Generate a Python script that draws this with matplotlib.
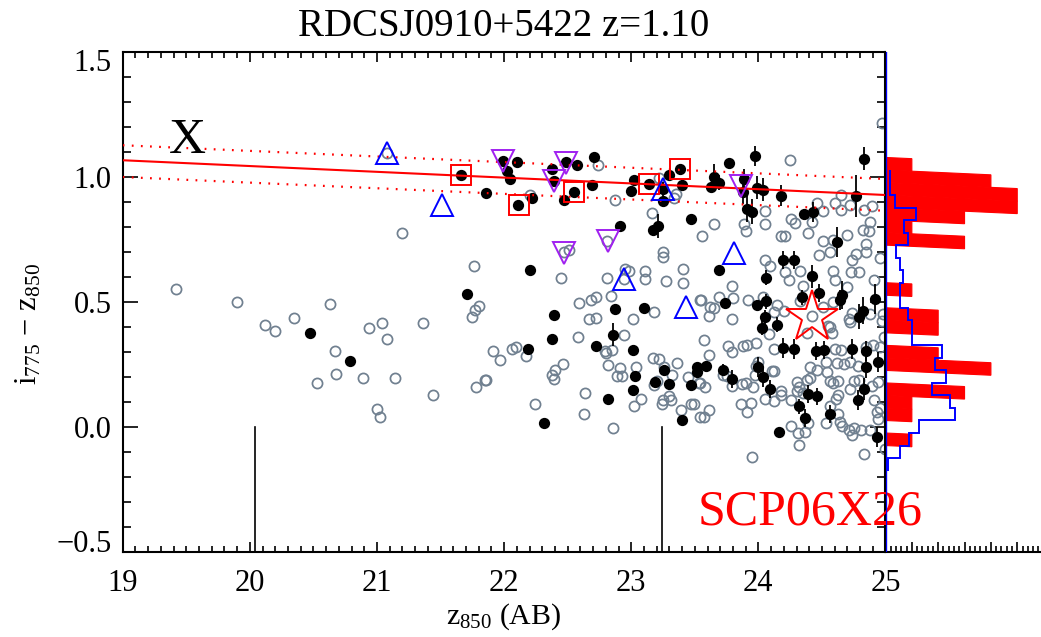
import matplotlib
matplotlib.use('Agg')
import matplotlib.pyplot as plt
from matplotlib.ticker import MultipleLocator
from matplotlib.transforms import ScaledTranslation

plt.rcParams['font.family']=['Liberation Serif','DejaVu Serif']
plt.rcParams['mathtext.fontset']='custom'
plt.rcParams['mathtext.rm']='Liberation Serif'
plt.rcParams['mathtext.it']='Liberation Serif:italic'
plt.rcParams['axes.unicode_minus']=True

#open grey circles
grey_x=[21.08,21.20,21.76,19.42,19.90,20.12,20.20,20.35,20.63,20.67,20.68,20.53,20.89,21.14,20.94,21.04,21.08,21.36,21.44,21.00,21.02,
21.80,21.77,21.75,21.91,21.97,22.06,22.09,21.78,21.85,21.86,22.51,22.47,22.45,22.81,22.95,22.98,22.94,23.11,23.11,23.27,23.41,23.41,23.25,23.25,
23.54,22.59,22.68,22.72,22.84,22.67,22.72,23.01,23.18,22.58,22.94,22.17,22.85,22.79,22.80,22.82,22.46,22.40,22.38,22.39,22.91,23.04,22.89,22.93,
23.17,23.22,23.36,23.26,23.32,23.45,23.54,23.20,23.18,22.64,22.24,22.63,23.08,23.02,23.24,23.25,23.30,23.31,23.39,23.47,23.54,22.86,
22.74,22.20,22.87,23.22,23.35,23.34,23.16,23.65,23.56,22.81,24.25,24.97,23.89,23.90,24.05,24.05,24.26,24.29,24.42,24.39,24.46,24.51,24.60,24.65,24.65,24.72,24.83,24.89,24.88,24.82,24.87,
24.70,24.18,24.21,24.51,24.59,24.85,24.48,24.56,24.77,24.74,24.85,24.96,24.05,24.09,24.33,24.59,24.73,24.79,24.21,24.24,24.60,24.91,23.79,24.35,24.70,23.69,23.80,23.92,23.55,24.04,
23.62,23.65,23.61,23.79,24.15,24.33,24.12,24.20,24.51,24.59,24.74,24.42,24.55,24.71,24.72,24.98,24.97,24.88,
23.57,23.76,23.79,23.88,23.91,23.98,23.61,24.12,24.08,24.38,24.58,24.56,24.60,24.65,24.90,24.85,24.96,24.99,24.00,23.98,23.97,24.11,24.12,23.72,23.75,23.79,23.87,23.90,23.96,23.58,23.53,
23.49,23.61,23.57,23.86,23.94,23.91,24.05,24.12,24.18,24.18,24.26,24.30,24.32,24.30,24.35,24.38,24.41,24.41,24.46,24.54,24.56,24.59,24.63,24.53,24.62,24.67,24.72,24.78,24.75,24.79,24.72,
24.63,24.61,24.91,24.89,24.94,24.93,24.96,24.94,24.56,24.63,24.53,24.64,24.66,24.71,24.75,24.74,24.81,24.88,24.39,24.26,24.31,24.37,24.32,23.95,24.83,25.00]
grey_y=[1.098,.776,.645,.551,.502,.41,.386,.435,.491,.306,.212,.177,.197,.198,.398,.415,.354,.417,.127,.073,.039,
.483,.467,.439,.305,.267,.313,.322,.162,.189,.189,.709,.701,.596,.598,.632,.626,.592,.626,.592,.583,.632,.575,.699,.681,
.509,.497,.510,.521,.523,.433,.437,.433,.461,.359,.370,.286,.309,.306,.298,.250,.251,.229,.210,.193,.237,.242,.205,.205,
.278,.273,.257,.240,.209,.200,.176,.186,.169,.136,.091,.053,.112,.084,.092,.107,.123,.108,.069,.093,.040,-.002,
1.049,.929,.909,.998,.932,.918,.856,.813,.764,.743,1.07,1.216,.812,.785,.865,.813,.832,.816,.82,.776,.896,.864,.896,.929,.869,.888,.87,.885,.821,.789,.785,
.768,.764,.766,.744,.749,.733,.688,.701,.692,.668,.701,.676,.667,.645,.625,.625,.622,.622,.619,.587,.590,.590,.563,.566,.559,.522,.517,.510,.509,.522,
.479,.477,.446,.433,.490,.503,.459,.463,.479,.499,.457,.446,.406,.433,.419,.453,.426,.453,
.349,.323,.299,.323,.330,.335,.290,.313,.373,.378,.375,.399,.313,.309,.330,.319,.319,.362,.259,.246,.210,.226,.226,.210,.206,.166,.173,.177,.161,.161,.176,
.093,.069,.039,.093,.097,.060,.113,.103,.144,.127,.109,.180,.160,.144,.136,.189,.197,.242,.230,.220,.186,.177,.186,.259,.257,.253,.259,.246,.186,.189,.153,
.130,.113,.109,.166,.180,.060,.077,.033,.083,.051,.016,.020,.003,-.013,-.002,-.030,-.013,-.013,.018,.003,-.022,-.020,-.072,-.121,-.108,-.089]

#filled black points with colour errors
black_x=[21.66,21.86,21.99,22.02,22.05,22.10,22.22,22.11,22.38,22.39,22.49,22.57,22.55,22.47,22.69,22.71,22.91,23.00,23.02,23.14,23.30,23.38,23.40,23.25,23.25,23.17,23.21,23.47,
23.63,23.65,23.69,23.77,23.97,23.89,23.88,23.99,24.04,24.18,23.91,23.95,24.36,24.43,24.77,24.83,24.62,24.19,24.28,23.69,20.47,20.79,21.71,
22.20,22.39,22.38,22.19,22.87,23.10,22.86,22.72,23.01,23.26,23.03,23.19,23.30,23.47,23.52,23.52,23.01,22.82,22.31,23.40,
24.06,24.42,24.34,24.48,24.66,24.64,24.92,23.74,23.99,24.06,24.05,24.15,24.03,24.82,24.79,
24.19,24.28,24.45,24.52,24.74,24.85,24.94,24.85,23.59,23.72,23.79,24.00,24.04,24.09,24.39,24.46,24.32,24.37,24.56,24.16,24.83,24.78,24.93]
black_y=[1.007,.937,1.065,1.025,.993,1.062,.918,.888,1.033,.985,1.059,1.05,.941,.908,.968,1.081,.805,.945,.988,.972,1.009,1.033,.969,.952,.906,.789,.804,.832,
.960,1.001,.977,1.058,1.086,.993,.942,.958,.95,.926,.874,.861,.853,.862,.924,1.074,.739,.669,.669,.63,.377,.265,.531,
.63,.447,.353,.311,.473,.478,.37,.323,.309,.23,.205,.181,.174,.168,.24,.22,.15,.112,.016,.027,
.598,.603,.519,.537,.529,.509,.513,.495,.490,.503,.439,.41,.397,.466,.442,
.315,.314,.305,.309,.313,.305,.259,.240,.244,.229,.193,.240,.202,.153,.133,.123,.083,.037,.053,-.020,.153,.109,-.040]
black_err=[.01,.01,.01,.01,.01,.01,.01,.015,.01,.01,.01,.01,.02,.01,.01,.01,.01,.01,.01,.01,.02,.01,.02,.03,.01,.01,.048,.01,
.015,.05,.03,.02,.04,.04,.05,.045,.045,.04,.055,.05,.02,.04,.085,.045,.06,.035,.035,.01,.005,.005,.005,
.005,.005,.005,.005,.005,.005,.047,.005,.005,.005,.005,.005,.005,.005,.005,.005,.005,.005,.005,.005,
.03,.045,.03,.035,.055,.04,.06,.02,.01,.03,.03,.03,.03,.055,.05,
.04,.04,.035,.035,.04,.04,.04,.045,.01,.025,.035,.04,.04,.035,.035,.035,.03,.035,.035,.005,.045,.04,.04]

square_x=[21.66,22.12,22.55,23.14,23.38]
square_y=[1.007,.888,.941,.973,1.033]
tri_up_x=[21.08,21.51,23.25,23.81,22.94,23.43]
tri_up_y=[1.098,.889,.954,.695,.592,.479]
tri_down_x=[21.99,22.39,22.49,22.47,22.82,23.86]
tri_down_y=[1.065,.985,1.058,.696,.743,.965]
star_x=[24.42]
star_y=[.44]

rs_x=[19,25]
rs_y=[1.067,.928]
rs_hi=[1.127,.992]
rs_lo=[1.000,.865]
vline_x=[20.04,23.24]

#red histogram, bins of 0.05 with the red sequence tilt
red_edges=[1.075,1.025,.975,.925,.875,.825,.775,.725,.575,.525,.475,.425,.375,.325,.275,.225,.175,.125,.075,.025,-.025,-.075]
red_counts=[1,4,5,5,3,1,3,0,1,0,2,2,0,2,4,0,3,1,1,0,1]
tilt=-0.00484

blue_edges=[1.025,.975,.925,.875,.825,.775,.725,.675,.625,.575,.525,.475,.425,.375,.325,.275,.225,.175,.125,.075,.025,-.025,-.075,-.125,-.175]
blue_counts=[.18,.18,.35,1.16,.70,.84,.38,.56,.68,.56,.56,.86,1.01,1.01,2.14,1.86,2.28,1.75,2.44,2.65,1.29,.89,.56,.10]

W,H=1041,637
fig=plt.figure(figsize=(W/100,H/100),dpi=100)
ax=fig.add_axes([122.7/W,1-552/H,(885.5-122.7)/W,(552-52)/H])
ax_h=fig.add_axes([885.5/W,1-552/H,(1040-885.5)/W,(552-52)/H],zorder=3)
ax_h.patch.set_alpha(0)

ax.plot(grey_x,grey_y,'o',mfc='none',mec='#708090',ms=7.3,mew=1.25,zorder=2,ls='none')
ax.errorbar(black_x,black_y,yerr=black_err,fmt='o',color='k',ms=8.1,mew=0,elinewidth=1.3,capsize=0,zorder=3)
ax.plot(square_x,square_y,'s',mfc='none',mec='red',ms=14.5,mew=1.4,zorder=5)
ax.plot(tri_up_x,tri_up_y,'^',mfc='none',mec='blue',ms=16,mew=1.4,zorder=5)
ax.plot(tri_down_x,tri_down_y,'v',mfc='none',mec='#A020F0',ms=16,mew=1.4,zorder=5)
ax.plot(star_x,star_y,'*',mfc='none',mec='red',ms=39,mew=1.4,zorder=6)
ax.plot(rs_x,rs_y,color='red',lw=1.5,zorder=4)
ax.plot(rs_x,rs_hi,color='red',lw=1.6,ls=(0,(0.8,3.3)),zorder=4)
ax.plot(rs_x,rs_lo,color='red',lw=1.6,ls=(0,(0.8,3.3)),zorder=4)
for x in vline_x:
    ax.plot([x,x],[-.5,0],color='k',lw=1.2,zorder=2)

ax.text(19.36,1.095,'X',fontsize=37,color='k',ha='left',va='baseline',zorder=6)
ax.text(23.52,-.39,'SCP06X26',fontsize=36,color='red',ha='left',va='baseline',zorder=6)

ax.set_xlim(19,25)
ax.set_ylim(-.5,1.496)
ax.set_xticks(range(19,26))
ax.set_yticks([-.5,0,.5,1,1.5])
ax.set_yticklabels(['\u22120.5','0.0','0.5','1.0','1.5'])
ax.xaxis.set_minor_locator(MultipleLocator(.1))
ax.yaxis.set_minor_locator(MultipleLocator(.1))
ax.tick_params(axis='x',which='major',direction='in',top=True,length=7.5,width=1.2,labelsize=22,pad=12)
ax.tick_params(axis='x',which='minor',direction='in',top=True,length=4,width=1.2)
ax.tick_params(axis='y',which='major',direction='in',right=True,length=11,width=1.2,labelsize=22,pad=8)
ax.tick_params(axis='y',which='minor',direction='in',right=True,length=5.5,width=1.2)
for s in ax.spines.values():
    s.set_linewidth(1.5)

#end labels sit inside the axis range
labels=ax.get_yticklabels()
labels[0].set_transform(labels[0].get_transform()+ScaledTranslation(0,11/100,fig.dpi_scale_trans))
labels[-1].set_transform(labels[-1].get_transform()+ScaledTranslation(0,-8/100,fig.dpi_scale_trans))

#histogram side panel
ax_h.set_xlim(0,(1040-885.5)/26.35)
ax_h.set_ylim(-.5,1.496)
for i,c in enumerate(red_counts):
    if c==0:
        continue
    top=red_edges[i]
    bot=red_edges[i+1]
    ax_h.fill([0,c,c,0],[top,top+tilt*c,bot+tilt*c,bot],color='red',lw=.8,zorder=1)
ax_h.stairs(blue_counts[::-1],blue_edges[::-1],orientation='horizontal',baseline=None,color='blue',lw=1.4,zorder=2)
ax_h.axvline(0,color='blue',lw=1.7,zorder=3)
for name in ['top','right','left']:
    ax_h.spines[name].set_visible(False)
ax_h.spines['bottom'].set_linewidth(1.5)
ax_h.set_yticks([])
ax_h.xaxis.set_major_locator(MultipleLocator(1))
ax_h.xaxis.set_minor_locator(MultipleLocator(.2))
ax_h.tick_params(axis='x',which='major',direction='in',length=7.5,width=1.2,labelbottom=False)
ax_h.tick_params(axis='x',which='minor',direction='in',length=4,width=1.2)

fig.text(504/W,1-27/H,'RDCSJ0910+5422 z=1.10',fontsize=28,ha='center',va='center')
fig.text(504/W,1-617/H,r'$\mathrm{z}_{850}$ (AB)',fontsize=21.5,ha='center',va='center')
fig.text(29/W,1-324/H,r'$\mathrm{i}_{775}\,-\,\mathrm{z}_{850}$',fontsize=22,rotation=90,ha='center',va='center')

fig.savefig('out.png',dpi=100)
